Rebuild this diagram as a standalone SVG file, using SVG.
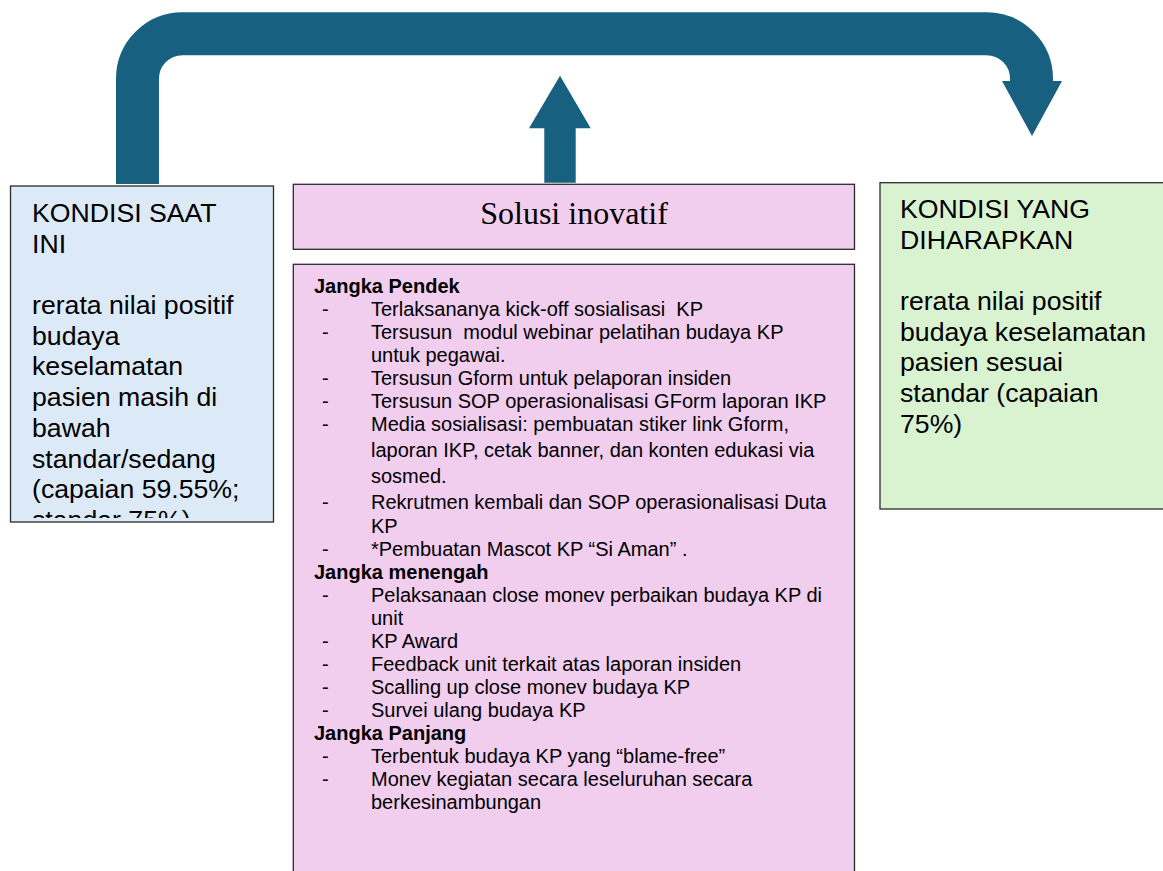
<svg xmlns="http://www.w3.org/2000/svg" width="1163" height="871" viewBox="0 0 1163 871">
<style>
.box{stroke:#2b2b2b;stroke-width:1.3}
.big{font-family:"Liberation Sans",Arial,sans-serif;font-size:26.67px;fill:#000}
.t{font-family:"Liberation Sans",Arial,sans-serif;font-size:20px;fill:#000}
.h{font-family:"Liberation Sans",Arial,sans-serif;font-size:20px;font-weight:bold;fill:#000}
.arrow{fill:#17607f}
</style>
<defs>
<clipPath id="clipLeft"><rect x="11" y="187" width="262" height="331"/></clipPath>
</defs>
<rect width="1163" height="871" fill="#ffffff"/>
<g id="connectors">
<path d="M137.5,184 V78.7 A45,45 0 0 1 182.5,33.7 H986.5 A45,45 0 0 1 1031.5,78.7 V82" fill="none" stroke="#17607f" stroke-width="43"/>
<polygon class="arrow" points="1002,81 1062,81 1032,136"/>
<polygon class="arrow" points="560,75.7 590.7,128.3 575.7,128.3 575.7,182.7 544.3,182.7 544.3,128.3 529,128.3"/>
</g>
<g id="node-current">
<rect class="box" x="10.5" y="186" width="263" height="336" fill="#dce9f6"/>
<g clip-path="url(#clipLeft)">
<text class="big" x="32" y="222">KONDISI SAAT</text>
<text class="big" x="32" y="252.7">INI</text>
<text class="big" x="32" y="314">rerata nilai positif</text>
<text class="big" x="32" y="344.7">budaya</text>
<text class="big" x="32" y="375.4">keselamatan</text>
<text class="big" x="32" y="406.1">pasien masih di</text>
<text class="big" x="32" y="436.8">bawah</text>
<text class="big" x="32" y="467.5">standar/sedang</text>
<text class="big" x="32" y="498.2">(capaian 59.55%;</text>
<text class="big" x="32" y="528.9">standar 75%)</text>
</g>
</g>
<g id="node-solution-header">
<rect class="box" x="293.3" y="184.3" width="561.2" height="65" fill="#f1cdee"/>
<text x="574" y="224" text-anchor="middle" font-family="'Liberation Serif','Times New Roman',serif" font-size="32" fill="#000">Solusi inovatif</text>
</g>
<g id="node-solution-body">
<rect class="box" x="293.3" y="264.3" width="561.2" height="620" fill="#f1cdee"/>
<text class="h" x="314" y="292.7">Jangka Pendek</text>
<g class="t">
<text class="t" x="322" y="315.7">-</text><text class="t" x="371" y="315.7" xml:space="preserve">Terlaksananya kick-off sosialisasi  KP</text>
<text class="t" x="322" y="338.7">-</text><text class="t" x="371" y="338.7" xml:space="preserve">Tersusun  modul webinar pelatihan budaya KP</text>
<text class="t" x="371" y="361.7">untuk pegawai.</text>
<text class="t" x="322" y="384.7">-</text><text class="t" x="371" y="384.7">Tersusun Gform untuk pelaporan insiden</text>
<text class="t" x="322" y="407.7">-</text><text class="t" x="371" y="407.7">Tersusun SOP operasionalisasi GForm laporan IKP</text>
<text class="t" x="322" y="430.7">-</text><text class="t" x="371" y="430.7">Media sosialisasi: pembuatan stiker link Gform,</text>
<text class="t" x="371" y="457.3">laporan IKP, cetak banner, dan konten edukasi via</text>
<text class="t" x="371" y="483.3">sosmed.</text>
<text class="t" x="322" y="509.3">-</text><text class="t" x="371" y="509.3">Rekrutmen kembali dan SOP operasionalisasi Duta</text>
<text class="t" x="371" y="532.5">KP</text>
<text class="t" x="322" y="555.5">-</text><text class="t" x="371" y="555.5">*Pembuatan Mascot KP “Si Aman” .</text>
</g>
<text class="h" x="314" y="578.5">Jangka menengah</text>
<text class="t" x="322" y="601.5">-</text><text class="t" x="371" y="601.5">Pelaksanaan close monev perbaikan budaya KP di</text>
<text class="t" x="371" y="624.5">unit</text>
<text class="t" x="322" y="647.5">-</text><text class="t" x="371" y="647.5">KP Award</text>
<text class="t" x="322" y="670.5">-</text><text class="t" x="371" y="670.5">Feedback unit terkait atas laporan insiden</text>
<text class="t" x="322" y="693.5">-</text><text class="t" x="371" y="693.5">Scalling up close monev budaya KP</text>
<text class="t" x="322" y="716.5">-</text><text class="t" x="371" y="716.5">Survei ulang budaya KP</text>
<text class="h" x="314" y="739.5">Jangka Panjang</text>
<text class="t" x="322" y="762.5">-</text><text class="t" x="371" y="762.5">Terbentuk budaya KP yang “blame-free”</text>
<text class="t" x="322" y="785.5">-</text><text class="t" x="371" y="785.5">Monev kegiatan secara leseluruhan secara</text>
<text class="t" x="371" y="808.5">berkesinambungan</text>
</g>
<g id="node-expected">
<rect class="box" x="880" y="182.7" width="300" height="326.3" fill="#d9f2d0"/>
<text class="big" x="900" y="218">KONDISI YANG</text>
<text class="big" x="900" y="248.7">DIHARAPKAN</text>
<text class="big" x="900" y="310">rerata nilai positif</text>
<text class="big" x="900" y="340.7">budaya keselamatan</text>
<text class="big" x="900" y="371.4">pasien sesuai</text>
<text class="big" x="900" y="402.1">standar (capaian</text>
<text class="big" x="900" y="432.8">75%)</text>
</g>
</svg>
